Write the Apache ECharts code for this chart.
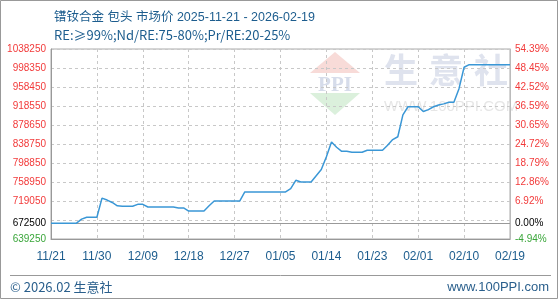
<!DOCTYPE html>
<html>
<head>
<meta charset="utf-8">
<script src="https://cdn.jsdelivr.net/npm/echarts@6/dist/echarts.min.js"></script>
<style>html,body{margin:0;padding:0;background:#fff;}#c{width:560px;height:300px;}</style>
</head>
<body>
<div id="c"></div>
<script>
const titleText = '镨钕合金 包头 市场价 2025-11-21 - 2026-02-19';
const subText = 'RE:≥99%;Nd/RE:75-80%;Pr/RE:20-25%';
const basePrice = 672500;
const yMin = 639250;
const yMax = 1038250;
const yStep = 39900;
const categories = [
 '11/21','11/22','11/23','11/24','11/25','11/26','11/27','11/28','11/29','11/30',
 '12/01','12/02','12/03','12/04','12/05','12/06','12/07','12/08','12/09','12/10',
 '12/11','12/12','12/13','12/14','12/15','12/16','12/17','12/18','12/19','12/20',
 '12/21','12/22','12/23','12/24','12/25','12/26','12/27','12/28','12/29','12/30',
 '12/31','01/01','01/02','01/03','01/04','01/05','01/06','01/07','01/08','01/09',
 '01/10','01/11','01/12','01/13','01/14','01/15','01/16','01/17','01/18','01/19',
 '01/20','01/21','01/22','01/23','01/24','01/25','01/26','01/27','01/28','01/29',
 '01/30','01/31','02/01','02/02','02/03','02/04','02/05','02/06','02/07','02/08',
 '02/09','02/10','02/11','02/12','02/13','02/14','02/15','02/16','02/17','02/18',
 '02/19'
];
const prices = [
 672500,672500,672500,672500,672500,672500,681000,685000,685000,685000,
 725000,721000,716000,709000,708000,708000,708000,712000,712000,706500,
 706500,706500,706500,706500,706500,704400,704400,698000,698000,698000,
 698000,709000,719000,719000,719000,719000,719000,719000,738000,738000,
 738000,738000,738000,738000,738000,738000,738000,745000,762500,759000,
 759000,759000,772000,785000,812000,843000,832000,823400,823400,821300,
 821300,821300,825500,825500,825500,825500,836000,848000,854000,900000,
 917000,917000,917000,907000,911000,917000,920500,923000,926300,926300,
 955000,1000000,1005300,1005300,1005300,1005300,1005300,1005300,1005300,1005300,
 1005300
];
const footLeft = '© 2026.02 生意社';
const footRight = 'www.100PPI.com';

const RED = '#f23a3a', GREEN = '#3aa63a', BLUE = '#1d5d8e';
const FONT = '"Liberation Sans", Arial, sans-serif';
const hiddenTick = yMin + yStep;

function pct(v) { return ((v - basePrice) / basePrice * 100).toFixed(2) + '%'; }
function leftFmt(v) {
  if (Math.abs(v - hiddenTick) < 1) return '';
  if (Math.abs(v - yMin) < 1) return '{g|' + Math.round(v) + '}';
  return '{r|' + Math.round(v) + '}';
}
function rightFmt(v) {
  if (Math.abs(v - hiddenTick) < 1) return '';
  if (Math.abs(v - yMin) < 1) return '{g|' + pct(v) + '}';
  return '{r|' + pct(v) + '}';
}
const rich = { r: { color: RED, fontSize: 10, fontFamily: FONT }, g: { color: GREEN, fontSize: 10, fontFamily: FONT } };

const chart = echarts.init(document.getElementById('c'), null, { renderer: 'canvas' });
chart.setOption({
  animation: false,
  backgroundColor: '#fff',
  title: {
    text: titleText, subtext: subText, left: 49, top: 6, itemGap: 5,
    textStyle: { fontSize: 12.5, fontWeight: 'normal', color: BLUE, fontFamily: '"Liberation Sans", "Noto Sans CJK SC", sans-serif' },
    subtextStyle: { fontSize: 13, color: BLUE, fontFamily: '"Noto Sans CJK SC", sans-serif' }
  },
  grid: { left: 51, right: 50, top: 49, bottom: 61, show: true, borderColor: '#aaa', borderWidth: 1, containLabel: false },
  xAxis: {
    type: 'category', data: categories, boundaryGap: false,
    axisLine: { lineStyle: { color: '#999' } },
    axisTick: { show: false },
    axisLabel: { interval: 8, color: BLUE, fontSize: 12, fontFamily: FONT, margin: 12 },
    splitLine: { show: true, interval: 8, lineStyle: { color: '#c8c8c8', type: [3, 3] } }
  },
  yAxis: [
    {
      type: 'value', min: yMin, max: yMax, interval: yStep, position: 'left',
      axisLine: { show: true, lineStyle: { color: '#999' } }, axisTick: { show: false },
      axisLabel: { formatter: leftFmt, rich: rich, margin: 5 },
      splitLine: { show: true, lineStyle: { color: '#c8c8c8', type: [3, 3] } }
    },
    {
      type: 'value', min: yMin, max: yMax, interval: yStep, position: 'right',
      axisLine: { show: true, lineStyle: { color: '#bbb' } }, axisTick: { show: false },
      axisLabel: { formatter: rightFmt, rich: rich, margin: 5 },
      splitLine: { show: false }
    }
  ],
  graphic: [
    { type: 'polygon', z: 0, shape: { points: [[310, 73], [335, 52], [360, 73]] }, style: { fill: '#f8dbd8' }, silent: true },
    { type: 'polygon', z: 0, shape: { points: [[310, 93], [360, 93], [335, 115]] }, style: { fill: '#dbf0dc' }, silent: true },
    { type: 'text', z: 0, x: 335, y: 75, style: { text: 'PPI', fill: '#d6dcea', font: 'bold 21px "Liberation Serif", serif', align: 'center' }, silent: true },
    { type: 'text', z: 0, x: 384, y: 53, style: { text: '生', fill: '#dfe3ee', font: 'bold 34px "Noto Sans CJK SC"' }, silent: true },
    { type: 'text', z: 0, x: 429, y: 53, style: { text: '意', fill: '#dfe3ee', font: 'bold 34px "Noto Sans CJK SC"' }, silent: true },
    { type: 'text', z: 0, x: 474, y: 53, style: { text: '社', fill: '#dfe3ee', font: 'bold 34px "Noto Sans CJK SC"' }, silent: true },
    { type: 'text', z: 0, x: 384, y: 99, style: { text: 'WWW.100PPI.COM', fill: '#e6e6e6', font: '15px "Liberation Sans"' }, silent: true },
    { type: 'line', z: 0, shape: { x1: 10, y1: 275.5, x2: 551, y2: 275.5 }, style: { stroke: '#999', lineWidth: 1 }, silent: true },
    { type: 'text', x: 10, y: 281, style: { text: footLeft, fill: '#2a5f8c', font: '13px "Noto Sans CJK SC"' }, silent: true },
    { type: 'text', x: 549, y: 281, style: { text: footRight, fill: '#2a5f8c', font: '13px "Liberation Sans"', align: 'right' }, silent: true },
    { type: 'rect', z: 0, shape: { x: 0.5, y: 0.5, width: 557, height: 298 }, style: { fill: 'none', stroke: '#999', lineWidth: 1 }, silent: true }
  ],
  series: [{
    type: 'line', data: prices, yAxisIndex: 0, showSymbol: false, smooth: false,
    lineStyle: { color: '#3a97d6', width: 1.5 }, z: 5,
    markLine: {
      silent: true, symbol: 'none', z: 3,
      lineStyle: { color: '#999', type: 'solid', width: 1 },
      data: [
        { yAxis: basePrice, label: { show: true, position: 'start', formatter: String(basePrice), color: '#000', fontSize: 10, fontFamily: FONT, distance: 5 } },
        { yAxis: basePrice, label: { show: true, position: 'end', formatter: pct(basePrice), color: '#000', fontSize: 10, fontFamily: FONT, distance: 5 } }
      ]
    }
  }]
});
</script>
</body>
</html>
